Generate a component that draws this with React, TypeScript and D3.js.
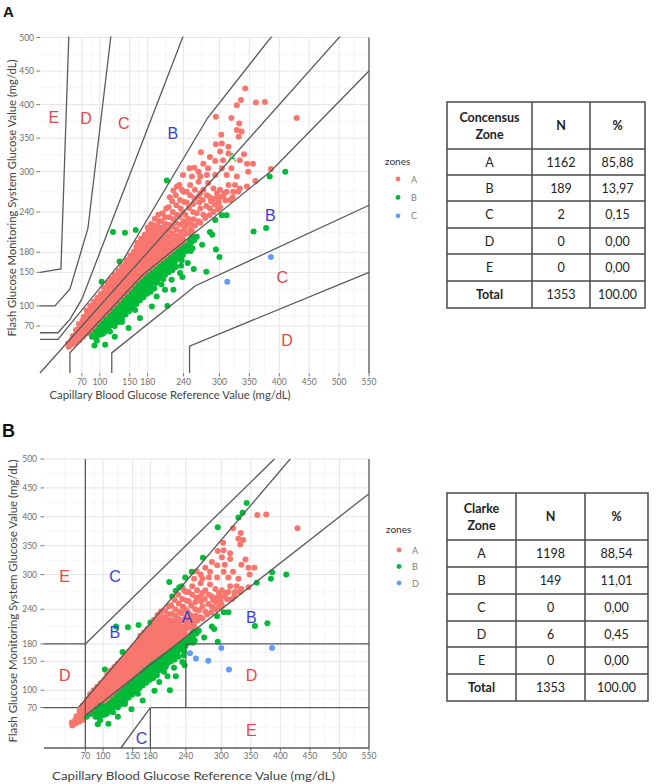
import React from 'react';
import * as d3 from 'd3';

type Pt = [number, number];

// Paired readings [capillary reference, flash glucose] in mg/dL
const coreBand: Pt[] = [
  [48,39],[47,44],
  [54,43],[53,49],[55,55],
  [60,46],[59,52],[61,58],[60,64],
  [66,49],[65,55],[67,61],[66,67],[65,73],
  [72,54],[71,60],[73,66],[72,72],[71,78],[73,84],
  [78,59],[77,65],[79,71],[78,77],[77,83],[79,89],[78,93],
  [84,64],[83,70],[85,76],[84,82],[83,88],[85,94],[84,100],
  [90,70],[89,76],[91,82],[90,88],[89,94],[91,100],[90,106],
  [96,76],[95,82],[97,88],[96,94],[95,100],[97,106],[96,112],
  [102,82],[101,88],[103,94],[102,100],[101,106],[103,112],[102,118],
  [108,87],[107,93],[109,99],[108,105],[107,111],[109,117],[108,123],[107,127],
  [114,93],[113,99],[115,105],[114,111],[113,117],[115,123],[114,129],[113,134],
  [120,99],[119,105],[121,111],[120,117],[119,123],[121,129],[120,135],[119,140],
  [126,104],[125,110],[127,116],[126,122],[125,128],[127,134],[126,140],[125,146],
  [132,110],[131,116],[133,122],[132,128],[131,134],[133,140],[132,146],[131,152],
  [138,116],[137,122],[139,128],[138,134],[137,140],[139,146],[138,152],[137,158],
  [144,121],[143,127],[145,133],[144,139],[143,145],[145,151],[144,157],[143,163],[145,168],
  [150,127],[149,133],[151,139],[150,145],[149,151],[151,157],[150,163],[149,169],[151,175],
  [156,133],[155,139],[157,145],[156,151],[155,157],[157,163],[156,169],[155,175],[157,181],
  [162,139],[161,146],[163,153],[162,160],[161,167],[163,174],[162,181],[161,188],[163,194],
  [168,144],[167,151],[169,158],[168,165],[167,172],[169,179],[168,186],[167,193],[169,200],
  [174,149],[173,156],[175,163],[174,170],[173,177],[175,184],[174,191],[173,198],[175,206],
  [180,154],[179,161],[181,168],[180,175],[179,182],[181,189],[180,196],[179,203],[181,210],[180,217],
  [186,158],[185,165],[187,172],[186,179],[185,186],[187,193],[186,200],[185,207],[187,214],[186,222],
  [192,162],[191,169],[193,176],[192,183],[191,190],[193,197],[192,204],[191,212],[193,220],[192,230],
  [198,167],[197,174],[199,181],[198,188],[197,195],[199,202],[198,210],[197,218],[199,226],[198,236],
  [204,171],[203,178],[205,185],[204,193],[203,201],[205,209],[204,217],[203,226],[205,238],
  [210,175],[209,182],[211,190],[210,198],[209,206],[211,214],[210,222],[209,232],[211,245],
  [216,180],[215,187],[217,195],[216,203],[215,212],[217,221],[216,232],[215,247],[217,262],
  [222,184],[221,191],[223,199],[222,208],[221,218],[223,229],[222,240],[221,256],[223,272],
  [228,189],[227,196],[229,204],[228,214],[227,224],[229,236],[228,250],[227,265],
  [234,193],[233,201],[235,210],[234,221],[233,233],[235,245],[234,258],[233,280],
  [240,197],[239,205],[241,214],[240,226],[239,240],[241,255],[240,270],[239,295],
];

const upperSpread: Pt[] = [
  [343,424],[329,399],[361,403],[376,404],[429,380],[294,382],[320,380],[333,372],[329,362],[337,360],
  [336,407],[303,355],[332,352],[304,342],[294,341],[315,337],[301,330],[315,327],[269,329],[284,322],
  [293,316],[306,317],[341,326],[334,317],[346,312],[356,312],[273,312],[258,306],[250,305],[265,300],
  [281,305],[304,305],[320,305],[348,300],[360,286],[386,304],[254,293],[268,293],[279,295],[293,295],
  [312,295],[329,293],[251,280],[265,285],[281,283],[315,280],[326,280],[334,275],[346,278],[229,278],
  [237,273],[245,270],[259,273],[273,273],[290,275],[301,273],[312,270],[323,270],[279,265],[293,260],
  [306,263],[318,258],[265,263],[251,265],[284,245],[301,247],[273,236],[256,240],[265,226],[245,223],
  [254,211],[246,208],[252,214],[243,219],[251,222],[259,220],[268,224],[248,230],[257,229],[276,231],
  [283,235],[243,236],[262,238],[290,240],[297,244],[249,246],[268,245],[278,249],[292,251],[245,254],
  [256,252],[266,254],[286,256],[299,254],[310,257],[258,260],[272,258],[284,262],[300,262],[322,262],
  [268,268],[296,268],[308,268],[331,270],
];

const lowBand: Pt[] = [
  [86,60],[87,54],
  [92,66],[91,60],[93,53],
  [98,72],[97,66],[99,59],
  [104,78],[103,72],[105,65],[104,58],
  [110,84],[109,78],[111,71],[110,63],
  [116,90],[115,84],[117,77],[116,70],
  [122,95],[121,89],[123,82],[122,75],
  [128,101],[127,95],[129,88],[128,80],
  [134,107],[133,101],[135,94],[134,86],
  [140,113],[139,107],[141,100],[140,92],
  [146,118],[145,112],[147,105],[146,97],
  [152,124],[151,118],[153,111],[152,103],
  [158,130],[157,124],[159,117],[158,109],
  [164,136],[163,130],[165,123],[164,115],
  [170,141],[169,135],[171,128],[170,120],
  [176,146],[175,140],[177,133],[176,125],
  [182,150],[181,144],[183,137],[182,128],
  [188,154],[187,148],[189,140],
  [194,158],[193,152],[195,144],[194,134],
  [200,163],[199,156],[201,148],
  [206,167],[205,160],[207,151],[206,140],
  [212,171],[211,164],[213,155],
  [218,175],[217,168],[219,158],
  [224,180],[223,172],[225,162],
  [230,184],[229,176],
  [236,188],[235,180],[237,168],
  [242,192],[241,184],
  [250,198],[249,188],
];

const lowBandInner: Pt[] = [
  [89,57],[95,62],[95,56],[101,69],[101,62],[107,75],[107,68],[107,60],[113,81],[113,74],
  [113,66],[119,87],[119,80],[119,72],[125,92],[125,85],[125,77],[125,70],[131,98],[131,91],
  [131,83],[131,76],[137,104],[137,97],[137,89],[137,81],[143,110],[143,103],[143,95],[143,87],
  [149,115],[149,108],[149,100],[149,92],[155,121],[155,114],[155,106],[155,97],[161,127],[161,120],
  [161,112],[161,103],[167,133],[167,126],[167,118],[167,108],[173,138],[173,131],[173,122],[173,113],
  [179,143],[179,136],[179,127],[179,118],[185,147],[185,140],[185,131],[185,121],[191,151],[191,144],
  [191,136],[191,126],[197,155],[197,148],[197,139],[203,160],[203,152],[203,143],[203,132],[209,164],
  [209,156],[209,146],[215,168],[215,160],[215,150],[221,172],[221,164],[221,153],[227,176],[227,168],
  [227,158],[233,180],[233,172],[239,185],[239,176],[245,190],[245,182],[253,195],[255,186],
];

const lowSpread: Pt[] = [
  [91,41],[95,48],[100,57],[109,42],[117,62],[125,54],[137,76],[148,67],[159,94],[167,82],
  [187,99],[195,114],[213,100],[209,124],[223,124],[220,139],[234,149],[238,143],[236,160],[244,183],
  [237,183],[252,182],[294,184],[247,164],[257,155],[278,151],[300,173],[271,191],[258,198],[254,203],
  [262,203],[284,210],[288,206],[293,228],[304,235],[312,235],[357,211],[378,216],[384,293],[410,300],
  [313,136],[386,173],
];

const highSpread: Pt[] = [
  [122,210],[142,209],[160,213],[133,166],[103,136],[212,287],
];

const allReadings: Pt[] = [...lowBand, ...lowBandInner, ...lowSpread, ...highSpread, ...coreBand, ...upperSpread];

const xBreaks = [70, 100, 150, 180, 240, 300, 350, 400, 450, 500, 550];
const yBreaks = [70, 100, 150, 180, 240, 300, 350, 400, 450, 500];
const xMinor = [35, 85, 125, 165, 210, 270, 325, 375, 425, 475, 525];
const yMinor = [35, 85, 125, 165, 210, 270, 325, 375, 425, 475];

// Consensus (Parkes, type 1) grid boundaries
const parkesUpperAB: Pt[] = [[0,50],[30,50],[140,170],[280,380],[430,550]];
const parkesUpperBC: Pt[] = [[0,60],[30,60],[50,80],[70,110],[260,550]];
const parkesUpperCD: Pt[] = [[0,100],[25,100],[50,125],[80,215],[125,550]];
const parkesUpperDE: Pt[] = [[0,150],[35,155],[50,550]];
const parkesLowerAB: Pt[] = [[50,0],[50,30],[170,145],[385,300],[550,450]];
const parkesLowerBC: Pt[] = [[120,0],[120,30],[260,130],[550,250]];
const parkesLowerCD: Pt[] = [[250,0],[250,40],[550,150]];
const identityLine: Pt[] = [[0,0],[550,550]];
const rightEdge: Pt[] = [[550,0],[550,500]];

// Clarke grid boundaries
const clarkeLines: Pt[][] = [
  [[0,70],[58.33,70]], [[58.33,70],[416.67,500]], [[70,56],[550,440]], [[70,0],[70,500]],
  [[70,180],[390,500]], [[0,180],[70,180]], [[240,180],[550,180]], [[240,70],[240,180]],
  [[180,70],[550,70]], [[180,0],[180,70]], [[130,0],[180,70]], [[0,0],[550,0]], [[550,0],[550,500]],
];

// Table contents
const tableZones = ['A', 'B', 'C', 'D', 'E'];
const consensusN = ['1162', '189', '2', '0', '0'];
const consensusPct = ['85,88', '13,97', '0,15', '0,00', '0,00'];
const consensusTotal = ['1353', '100.00'];
const clarkeN = ['1198', '149', '0', '6', '0'];
const clarkePct = ['88,54', '11,01', '0,00', '0,45', '0,00'];
const clarkeTotal = ['1353', '100.00'];

const palette = ['#F8766D', '#00BA38', '#619CFF'];
const RED = '#e2474d';
const BLUE = '#3b3bd4';

const lineAt = (poly: Pt[], x: number): number | null => {
  const pts = poly.filter((p, i) => i === poly.length - 1 || poly[i + 1][0] !== p[0]);
  if (x < pts[0][0]) return null;
  const s = d3.scaleLinear().domain(pts.map(p => p[0])).range(pts.map(p => p[1]));
  return s(x);
};

const parkesZone = (x: number, y: number): string => {
  const above = (poly: Pt[]) => { const v = lineAt(poly, x); return v !== null && y > v; };
  const below = (poly: Pt[]) => { const v = lineAt(poly, x); return v !== null && y < v; };
  if (above(parkesUpperDE)) return 'E';
  if (above(parkesUpperCD)) return 'D';
  if (above(parkesUpperBC)) return 'C';
  if (above(parkesUpperAB)) return 'B';
  if (below(parkesLowerCD)) return 'D';
  if (below(parkesLowerBC)) return 'C';
  if (below(parkesLowerAB)) return 'B';
  return 'A';
};

const clarkeZone = (x: number, y: number): string => {
  if ((x <= 70 && y <= 70) || (y <= 1.2 * x && y >= 0.8 * x)) return 'A';
  if ((x <= 70 && y >= 180) || (x >= 180 && y <= 70)) return 'E';
  if ((x >= 70 && x <= 290 && y >= x + 110) || (x >= 130 && x <= 180 && y <= 1.4 * x - 182)) return 'C';
  if ((x >= 240 && y >= 70 && y <= 180) || (x <= 175 / 3 && y <= 180 && y >= 70) || (x >= 175 / 3 && x <= 70 && y >= 1.2 * x)) return 'D';
  return 'B';
};

type Label = { t: string; x: number; y: number; c: string; s?: number };

const FONT = 'Lato, "Open Sans", sans-serif';
const LETTER_FONT = '"Liberation Sans", Arial, sans-serif';

function ScatterPanel(props: {
  id: string; left: number; right: number; top: number; bottom: number;
  zoneOf: (x: number, y: number) => string;
  paths: Pt[][]; labels: Label[];
  xTitle: { cx: number; y: number; len: number; size: number };
  yTitle: { cy: number; x: number; len: number; size: number };
  legend: { x: number; titleY: number; firstY: number; gap: number };
  yLabelGap: number; xLabelY: number;
}) {
  const { id, left, right, top, bottom } = props;
  const x = d3.scaleLinear().domain([0, 550]).range([left, right]);
  const y = d3.scaleLinear().domain([0, 500]).range([bottom, top]);
  const line = d3.line<Pt>().x(d => x(d[0])).y(d => y(d[1]));
  const zones = allReadings.map(p => props.zoneOf(p[0], p[1]));
  const present = Array.from(new Set(zones)).sort();
  const color = d3.scaleOrdinal<string, string>().domain(present).range(palette);
  const xTitleText = 'Capillary Blood Glucose Reference Value (mg/dL)';
  const yTitleText = 'Flash Glucose Monitoring System Glucose Value (mg/dL)';
  return (
    <g>
      <defs>
        <clipPath id={`clip-${id}`}>
          <rect x={left - 2} y={top - 1} width={right - left + 4} height={bottom - top + 3} />
        </clipPath>
      </defs>
      {xMinor.map(v => <line key={'xm' + v} x1={x(v)} x2={x(v)} y1={y(0)} y2={y(500)} stroke="#eeeeee" strokeWidth={0.6} />)}
      {yMinor.map(v => <line key={'ym' + v} x1={x(0)} x2={x(550)} y1={y(v)} y2={y(v)} stroke="#eeeeee" strokeWidth={0.6} />)}
      {xBreaks.map(v => <line key={'xM' + v} x1={x(v)} x2={x(v)} y1={y(0)} y2={y(500)} stroke="#e2e2e2" strokeWidth={0.9} />)}
      {yBreaks.map(v => <line key={'yM' + v} x1={x(0)} x2={x(550)} y1={y(v)} y2={y(v)} stroke="#e2e2e2" strokeWidth={0.9} />)}
      <g>
        {allReadings.map((p, i) => (
          <circle key={i} cx={x(p[0])} cy={y(p[1])} r={3} fill={color(zones[i])} />
        ))}
      </g>
      <g clipPath={`url(#clip-${id})`}>
        {props.paths.map((p, i) => (
          <path key={i} d={line(p) || ''} fill="none" stroke="#5a5a5a" strokeWidth={1.3} />
        ))}
      </g>
      {props.labels.map((l, i) => (
        <text key={i} x={x(l.x)} y={y(l.y)} fill={l.c} fontSize={l.s || 16} fontFamily={LETTER_FONT}
          textAnchor="middle" dominantBaseline="central">{l.t}</text>
      ))}
      {yBreaks.map(v => (
        <g key={'yt' + v}>
          <line x1={left - 3.5} x2={left} y1={y(v)} y2={y(v)} stroke="#555" strokeWidth={0.8} />
          <text x={left - props.yLabelGap} y={y(v)} dominantBaseline="central" textAnchor="end"
            fontSize={8.5} fill="#6e6e6e" fontFamily={FONT}>{v}</text>
        </g>
      ))}
      {xBreaks.map(v => (
        <g key={'xt' + v}>
          <line x1={x(v)} x2={x(v)} y1={bottom} y2={bottom + 3.5} stroke="#555" strokeWidth={0.8} />
          <text x={x(v)} y={props.xLabelY} textAnchor="middle" dominantBaseline="central"
            fontSize={8.5} fill="#6e6e6e" fontFamily={FONT}>{v}</text>
        </g>
      ))}
      <text x={props.xTitle.cx} y={props.xTitle.y} textAnchor="middle" dominantBaseline="central"
        fontSize={props.xTitle.size} fill="#444" fontFamily={FONT}
        textLength={props.xTitle.len} lengthAdjust="spacingAndGlyphs">{xTitleText}</text>
      <text transform={`translate(${props.yTitle.x},${props.yTitle.cy}) rotate(-90)`} textAnchor="middle"
        dominantBaseline="central" fontSize={props.yTitle.size} fill="#444" fontFamily={FONT}
        textLength={props.yTitle.len} lengthAdjust="spacingAndGlyphs">{yTitleText}</text>
      <text x={props.legend.x} y={props.legend.titleY} fontSize={10} fill="#333" fontFamily={FONT}
        dominantBaseline="central">zones</text>
      {present.map((z, i) => (
        <g key={'lg' + z}>
          <circle cx={props.legend.x + 13} cy={props.legend.firstY + i * props.legend.gap} r={2.4} fill={color(z)} />
          <text x={props.legend.x + 26} y={props.legend.firstY + i * props.legend.gap} fontSize={9}
            fill="#808080" fontFamily={FONT} dominantBaseline="central">{z}</text>
        </g>
      ))}
    </g>
  );
}

function ZoneTable(props: {
  cols: number[]; rows: number[]; title: string[]; n: string[]; pct: string[]; total: string[];
}) {
  const { cols, rows } = props;
  const cx = (i: number) => (cols[i] + cols[i + 1]) / 2;
  const cy = (j: number) => (rows[j] + rows[j + 1]) / 2;
  const body = tableZones.map((z, i) => [z, props.n[i], props.pct[i]]);
  const fs = 12.5;
  return (
    <g fontFamily={FONT} fill="#222">
      <rect x={cols[0]} y={rows[0]} width={cols[3] - cols[0]} height={rows[rows.length - 1] - rows[0]}
        fill="#fff" stroke="#4a4a4a" strokeWidth={1.5} />
      {cols.slice(1, 3).map((c, i) => (
        <line key={'c' + i} x1={c} x2={c} y1={rows[0]} y2={rows[rows.length - 1]} stroke="#4a4a4a" strokeWidth={1.5} />
      ))}
      {rows.slice(1, rows.length - 1).map((r, i) => (
        <line key={'r' + i} x1={cols[0]} x2={cols[3]} y1={r} y2={r} stroke="#4a4a4a" strokeWidth={1.5} />
      ))}
      <text x={cx(0)} y={cy(0) - 8.5} textAnchor="middle" dominantBaseline="central" fontSize={fs} fontWeight="bold">{props.title[0]}</text>
      <text x={cx(0)} y={cy(0) + 8.5} textAnchor="middle" dominantBaseline="central" fontSize={fs} fontWeight="bold">{props.title[1]}</text>
      <text x={cx(1)} y={cy(0)} textAnchor="middle" dominantBaseline="central" fontSize={fs} fontWeight="bold">N</text>
      <text x={cx(2)} y={cy(0)} textAnchor="middle" dominantBaseline="central" fontSize={fs} fontWeight="bold">%</text>
      {body.map((row, j) => row.map((cell, i) => (
        <text key={j + '-' + i} x={cx(i)} y={cy(j + 1)} textAnchor="middle" dominantBaseline="central" fontSize={fs}>{cell}</text>
      )))}
      <text x={cx(0)} y={cy(6)} textAnchor="middle" dominantBaseline="central" fontSize={fs} fontWeight="bold">Total</text>
      <text x={cx(1)} y={cy(6)} textAnchor="middle" dominantBaseline="central" fontSize={fs}>{props.total[0]}</text>
      <text x={cx(2)} y={cy(6)} textAnchor="middle" dominantBaseline="central" fontSize={fs}>{props.total[1]}</text>
    </g>
  );
}

export default function App() {
  const labelsA: Label[] = [
    { t: 'E', x: 23, y: 381, c: RED }, { t: 'D', x: 77, y: 380, c: RED },
    { t: 'C', x: 140, y: 372, c: RED }, { t: 'B', x: 222, y: 357, c: BLUE },
    { t: 'B', x: 385, y: 234, c: BLUE }, { t: 'C', x: 405, y: 143, c: RED },
    { t: 'D', x: 413, y: 49, c: RED }, { t: 'A', x: 321, y: 320, c: '#22b03a', s: 12 },
  ];
  const labelsB: Label[] = [
    { t: 'E', x: 35, y: 297, c: RED }, { t: 'C', x: 120, y: 297, c: BLUE },
    { t: 'B', x: 120, y: 199, c: BLUE }, { t: 'A', x: 242, y: 226, c: BLUE },
    { t: 'B', x: 351, y: 226, c: BLUE }, { t: 'D', x: 35, y: 126, c: RED },
    { t: 'D', x: 351, y: 126, c: RED }, { t: 'E', x: 351, y: 31, c: RED },
    { t: 'C', x: 165, y: 17, c: BLUE },
  ];
  const parkesPaths = [identityLine, parkesUpperAB, parkesUpperBC, parkesUpperCD, parkesUpperDE,
    parkesLowerAB, parkesLowerBC, parkesLowerCD, rightEdge];
  return (
    <svg width={656} height={784} style={{ position: 'absolute', left: 0, top: 0, background: '#fff' }}>
      <rect width={656} height={784} fill="#fff" />
      <text x={3} y={17} fontSize={15} fontWeight="bold" fontFamily={LETTER_FONT} fill="#111">A</text>
      <text x={2} y={437} fontSize={18} fontWeight="bold" fontFamily={LETTER_FONT} fill="#111">B</text>
      <ScatterPanel id="a" left={40} right={369} top={37.5} bottom={373}
        zoneOf={parkesZone} paths={parkesPaths} labels={labelsA}
        xTitle={{ cx: 170, y: 395, len: 241, size: 10.5 }}
        yTitle={{ cy: 198, x: 12, len: 277, size: 10.5 }}
        legend={{ x: 385, titleY: 161, firstY: 179, gap: 18.4 }}
        yLabelGap={6} xLabelY={382} />
      <ScatterPanel id="b" left={44} right={369} top={459} bottom={748}
        zoneOf={clarkeZone} paths={clarkeLines} labels={labelsB}
        xTitle={{ cx: 193.5, y: 775, len: 283, size: 11.5 }}
        yTitle={{ cy: 601, x: 12, len: 283, size: 11 }}
        legend={{ x: 386, titleY: 529, firstY: 550, gap: 16.5 }}
        yLabelGap={7} xLabelY={756} />
      <ZoneTable cols={[447, 532, 590, 645]} rows={[102, 149, 175, 201, 228, 254, 281, 308]}
        title={['Concensus', 'Zone']} n={consensusN} pct={consensusPct} total={consensusTotal} />
      <ZoneTable cols={[447, 516, 585, 648]} rows={[493, 540, 567, 594, 621, 647, 674, 701]}
        title={['Clarke', 'Zone']} n={clarkeN} pct={clarkePct} total={clarkeTotal} />
    </svg>
  );
}
